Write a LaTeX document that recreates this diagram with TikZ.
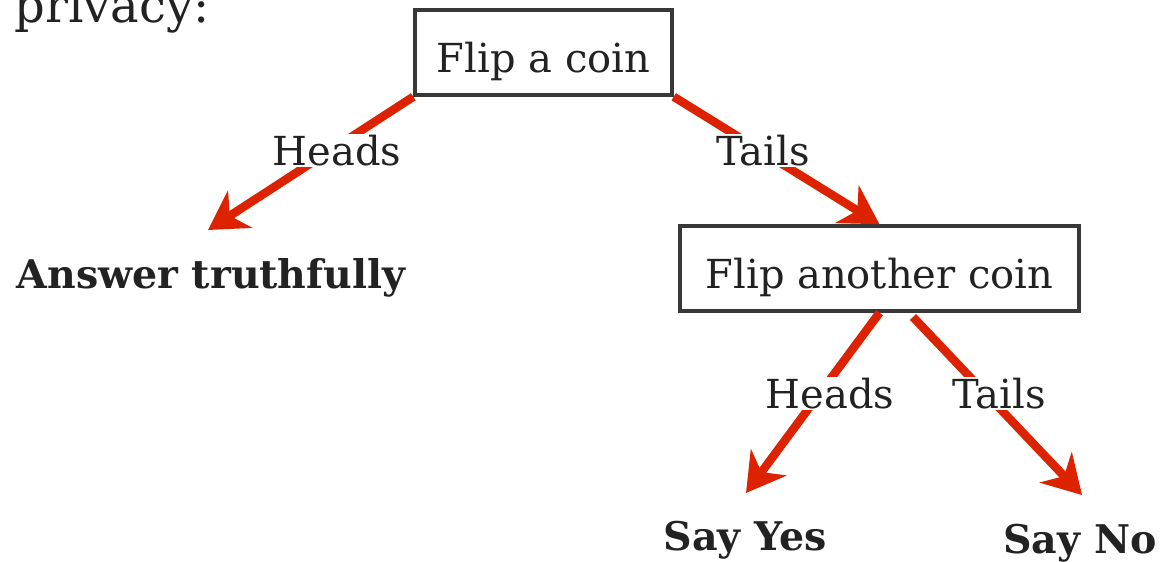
\documentclass[tikz,border=0pt]{standalone}
\usepackage{fontspec}
\setmainfont{DejaVu Serif}
\usetikzlibrary{arrows.meta}
\definecolor{arrred}{RGB}{221,34,0}
\definecolor{ink}{RGB}{34,34,34}
\tikzset{
  box/.style={draw=ink!90, line width=3.5pt, text=ink, inner sep=0pt, text height=39pt, text depth=0pt, font=\fontsize{40}{46}\selectfont},
  lbl/.style={text=ink, fill=white, inner sep=1pt, anchor=base, font=\fontsize{40}{46}\selectfont},
  res/.style={text=ink, anchor=base, font=\fontsize{39.5}{46}\selectfont\bfseries},
  arr/.style={draw=arrred, line width=8.5pt, -{Stealth[length=38pt, width=44pt, inset=12pt]}},
}
\begin{document}
\begin{tikzpicture}[x=1pt, y=-1pt]
\useasboundingbox (0,0) rectangle (1167,562);
\node[text=ink, anchor=base, font=\fontsize{48}{54}\selectfont] (priv) at (112,22) {privacy:};
\node[box, minimum width=257pt, minimum height=85pt] (b1) at (543.5,52.5) {Flip a coin};
\node[box, minimum width=399pt, minimum height=85pt] (b2) at (879.5,268.5) {Flip another coin};
\node[res] (ans) at (211,288) {Answer truthfully};
\node[res] (yes) at (745,550) {Say Yes};
\node[res] (no) at (1080,553) {Say No};
\coordinate (t1) at (208,230);
\coordinate (t3) at (746,493);
\coordinate (t4) at (1082,495);
\coordinate (s4) at (913,317);
\draw[arr] (b1.south west) -- (t1);
\draw[arr] (b1.south east) -- (b2.north);
\draw[arr] (b2.south) -- (t3);
\draw[arr] (s4) -- (t4);
\node[lbl] (h1) at (337,165) {Heads};
\node[lbl] (ta1) at (763,165) {Tails};
\node[lbl] (h2) at (830,408) {Heads};
\node[lbl] (ta2) at (999,408) {Tails};
\end{tikzpicture}
\end{document}
